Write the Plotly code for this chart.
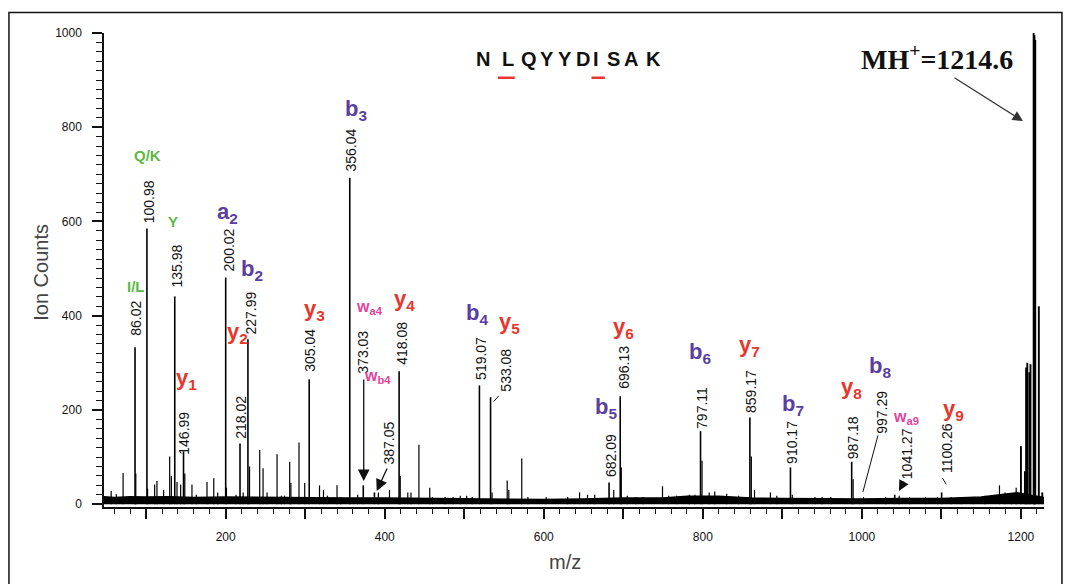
import plotly.graph_objects as go

# ---------------- data ----------------
# labelled peaks (m/z label text, drawn position, intensity)
peak_labels = ["86.02", "100.98", "135.98", "146.99", "200.02", "218.02", "227.99",
               "305.04", "356.04", "373.03", "387.05", "418.08", "519.07", "533.08",
               "682.09", "696.13", "797.11", "859.17", "910.17", "987.18", "997.29",
               "1041.27", "1100.26"]
peak_mz = [86.02, 100.98, 135.98, 146.99, 200.02, 218.02, 227.99,
           305.04, 356.04, 373.03, 387.05, 418.08, 519.07, 533.08,
           682.09, 696.13, 797.11, 859.17, 910.17, 987.18, 997.29,
           1041.27, 1100.26]
peak_int = [333, 585, 441, 112, 481, 129, 350,
            265, 693, 40, 25, 282, 252, 227,
            46, 229, 155, 184, 78, 90, 12,
            20, 25]

# precursor cluster
cluster_mz = [1200, 1205, 1206.5, 1208, 1210.5, 1212, 1216, 1217, 1218, 1222.5, 1226.8]
cluster_int = [123, 70, 290, 300, 280, 297, 1000, 995, 985, 420, 25]

# unlabelled minor peaks
minor_mz = [56, 62.5, 71, 87, 101.8, 110.7, 113.6, 122, 129.6, 131.7, 138.8, 143.4,
            148.6, 157.6, 163, 176.5, 185, 190, 201, 213, 222, 230, 242.8, 247, 252,
            264.6, 270, 274, 280.5, 282, 292.2, 299.4, 318, 323, 328, 340, 345, 366,
            392, 406, 419.5, 429, 433, 443, 456.6, 460, 476, 486, 495, 503, 510, 535,
            554, 556, 572.3, 580, 603, 630, 645, 655, 664, 688, 697.5, 705, 716, 725,
            749.3, 757, 767, 783, 790, 799, 808, 815, 830, 845, 861, 865, 885, 893,
            912.5, 941, 950, 961, 989, 1002, 1030, 1047, 1060, 1080, 1095, 1112, 1125,
            1140, 1155, 1173, 1180, 1188, 1194]
minor_int = [28, 21, 66, 65, 33, 42, 49, 30, 101, 60, 47, 42,
             65, 42, 20, 47, 55, 25, 35, 20, 25, 80, 115, 76, 25,
             106, 18, 18, 90, 45, 131, 45, 40, 30, 18, 40, 15, 20,
             25, 30, 60, 25, 25, 126, 35, 15, 15, 15, 18, 18, 15, 25,
             50, 30, 97, 15, 15, 15, 25, 20, 20, 30, 78, 18, 15, 15,
             38, 18, 18, 20, 20, 92, 25, 27, 22, 18, 101, 30, 25, 18,
             20, 15, 15, 15, 53, 15, 15, 18, 15, 15, 15, 15, 15,
             15, 18, 40, 25, 20, 35]

# baseline noise band level
base_mz = [47, 60, 80, 100, 130, 160, 200, 250, 300, 350, 400, 450, 500, 550, 600,
           650, 700, 750, 780, 820, 860, 900, 950, 1000, 1050, 1100, 1150, 1180, 1195, 1229]
base_lvl = [16, 14, 16, 15, 16, 14, 15, 14, 14, 13, 13, 12, 11, 11, 10,
            11, 13, 13, 17, 17, 13, 12, 11, 11, 12, 12, 15, 20, 24, 14]

# ion labels
ion_text = ["a<sub>2</sub>", "b<sub>2</sub>", "b<sub>3</sub>", "b<sub>4</sub>", "b<sub>5</sub>",
            "b<sub>6</sub>", "b<sub>7</sub>", "b<sub>8</sub>",
            "y<sub>1</sub>", "y<sub>2</sub>", "y<sub>3</sub>", "y<sub>4</sub>", "y<sub>5</sub>",
            "y<sub>6</sub>", "y<sub>7</sub>", "y<sub>8</sub>", "y<sub>9</sub>"]
ion_x = [202.5, 232.7, 363.5, 515.7, 678, 796.2, 913.2, 1022.7,
         150.9, 215.1, 312, 425.2, 557.2, 700.6, 859.2, 987.5, 1115.8]
ion_y = [618, 497, 837, 404, 204, 321, 211, 291,
         266, 363, 412, 433, 385, 374, 336, 247, 200]

w_text = ["w<sub>a4</sub>", "w<sub>b4</sub>", "w<sub>a9</sub>"]
w_x = [381.1, 391.2, 1055.4]
w_y = [418, 270, 185]

aa_text = ["Q/K", "Y", "I/L"]
aa_x = [101.9, 133.3, 86.8]
aa_y = [741, 599, 461]

# positions of the rotated m/z labels
lab_x = [86.8, 103.1, 138.4, 147.2, 203.8, 218.9, 231.4, 305.7, 357.2, 372.3, 405,
         421.4, 520.8, 552.2, 684.3, 700.6, 798.8, 860.4, 912, 988.7, 1025.2, 1056.6, 1106.9]
lab_y = [395, 642, 506, 151, 540, 185, 406, 327, 752, 323, 130,
         342, 310, 285, 104, 291, 204, 240, 132, 142, 196, 108, 119]

sequence = list("NLQYYDISAK")
seq_x = [523.3, 554.7, 581.1, 604.4, 627, 649.1, 666.1, 687.5, 710.1, 738.4]

x_ticks = [100, 200, 300, 400, 500, 600, 700, 800, 900, 1000, 1100, 1200]
x_ticktext = ["", "200", "", "400", "", "600", "", "800", "", "1000", "", "1200"]
y_ticks = [0, 200, 400, 600, 800, 1000]

# ---------------- styling ----------------
GREEN = "#5cb845"
PURPLE = "#5a3fa0"
RED = "#e8362b"
PINK = "#e2449c"
FONT = "Arial, Liberation Sans, sans-serif"


def sticks(mz, h):
    xs, ys = [], []
    for m, v in zip(mz, h):
        xs += [m, m, None]
        ys += [0, v, None]
    return xs, ys


fig = go.Figure()

fig.add_trace(go.Scatter(x=base_mz, y=base_lvl, mode="lines", fill="tozeroy",
                         fillcolor="black", line=dict(color="black", width=1.5),
                         hoverinfo="skip", showlegend=False))

mx, my = sticks(minor_mz, minor_int)
fig.add_trace(go.Scatter(x=mx, y=my, mode="lines", line=dict(color="black", width=1.2),
                         showlegend=False))
px_, py_ = sticks(peak_mz, peak_int)
fig.add_trace(go.Scatter(x=px_, y=py_, mode="lines", line=dict(color="black", width=1.6),
                         showlegend=False))
cx, cy = sticks(cluster_mz, cluster_int)
fig.add_trace(go.Scatter(x=cx, y=cy, mode="lines", line=dict(color="black", width=1.9),
                         showlegend=False))

ann = []
for t, x, y in zip(peak_labels, lab_x, lab_y):
    ann.append(dict(x=x, y=y, text=t, textangle=-90, showarrow=False,
                    font=dict(family=FONT, size=14, color="#111")))
for t, x, y in zip(ion_text, ion_x, ion_y):
    col = PURPLE if t.startswith("a") or t.startswith("b") else RED
    ann.append(dict(x=x, y=y, text="<b>" + t + "</b>", showarrow=False,
                    font=dict(family=FONT, size=22, color=col)))
for t, x, y in zip(w_text, w_x, w_y):
    ann.append(dict(x=x, y=y, text="<b>" + t + "</b>", showarrow=False,
                    font=dict(family=FONT, size=16, color=PINK)))
for t, x, y in zip(aa_text, aa_x, aa_y):
    ann.append(dict(x=x, y=y, text="<b>" + t + "</b>", showarrow=False,
                    font=dict(family=FONT, size=15, color=GREEN)))
for t, x in zip(sequence, seq_x):
    ann.append(dict(x=x, y=945, text="<b>" + t + "</b>", showarrow=False,
                    font=dict(family=FONT, size=20, color="#111")))

# MH+ text and arrow
ann.append(dict(x=1094.4, y=949, text="<b>MH<sup>+</sup>=1214.6</b>", showarrow=False,
                font=dict(family="Liberation Serif, Times New Roman, serif", size=28, color="#111")))
ann.append(dict(x=1202.6, y=813, ax=1114.5, ay=907, axref="x", ayref="y", text="",
                showarrow=True, arrowhead=2, arrowsize=1.6, arrowwidth=1.3, arrowcolor="#333"))
# arrows for small peaks
ann.append(dict(x=373.6, y=49, ax=373.6, ay=268, axref="x", ayref="y", text="",
                showarrow=True, arrowhead=2, arrowsize=1.8, arrowwidth=1.3, arrowcolor="#111"))
ann.append(dict(x=389.9, y=28, ax=403.8, ay=79, axref="x", ayref="y", text="",
                showarrow=True, arrowhead=2, arrowsize=1.8, arrowwidth=1.3, arrowcolor="#111"))
ann.append(dict(x=1046.6, y=28, ax=1054, ay=51, axref="x", ayref="y", text="",
                showarrow=True, arrowhead=2, arrowsize=1.6, arrowwidth=1.3, arrowcolor="#111"))

# axis titles
ann.append(dict(xref="paper", yref="paper", x=-0.081, y=0.496, text="Ion Counts",
                textangle=-90, showarrow=False, font=dict(family=FONT, size=20, color="#444")))
ann.append(dict(xref="paper", yref="paper", x=0.4904, y=-0.1435, text="m/z",
                showarrow=False, font=dict(family=FONT, size=20, color="#444")))

shapes = [
    # outer frame
    dict(type="rect", xref="paper", yref="paper", x0=-0.1011, x1=1.0191, y0=-0.2, y1=1.0432,
         line=dict(color="#111", width=1.5)),
    # leader lines
    dict(type="line", x0=1020.2, y0=146, x1=1001.3, y1=26, line=dict(color="#111", width=1)),
    dict(type="line", x0=543.4, y0=230, x1=537.1, y1=218, line=dict(color="#111", width=1)),
    dict(type="line", x0=1101.5, y0=55, x1=1106, y1=42, line=dict(color="#111", width=1)),
    # red underlines in sequence
    dict(type="line", x0=542.2, x1=563.5, y0=905, y1=905, line=dict(color=RED, width=2.5)),
    dict(type="line", x0=660, x1=676.8, y0=905, y1=905, line=dict(color=RED, width=2.5)),
]

fig.update_layout(
    width=1073, height=584,
    margin=dict(l=104, r=29, t=33, b=77),
    paper_bgcolor="white", plot_bgcolor="white",
    showlegend=False,
    annotations=ann, shapes=shapes,
    xaxis=dict(range=[47, 1229], showgrid=False, zeroline=False, showline=True,
               linecolor="#111", linewidth=1.5, ticks="outside", ticklen=10, tickwidth=1.5,
               tickcolor="#111", tickvals=x_ticks, ticktext=x_ticktext,
               minor=dict(dtick=20, tick0=0, ticks="outside", ticklen=5, tickcolor="#111", tickwidth=1),
               tickfont=dict(family=FONT, size=12, color="#111"), ticklabelstandoff=8),
    yaxis=dict(range=[-6, 1000], showgrid=False, zeroline=False, showline=True,
               linecolor="#111", linewidth=1.5, ticks="outside", ticklen=10, tickwidth=1.5,
               tickcolor="#111", tickvals=y_ticks,
               minor=dict(dtick=20, tick0=0, ticks="outside", ticklen=6, tickcolor="#111", tickwidth=1),
               tickfont=dict(family=FONT, size=12, color="#111"), ticklabelstandoff=8),
)

fig.write_html("out.html")
